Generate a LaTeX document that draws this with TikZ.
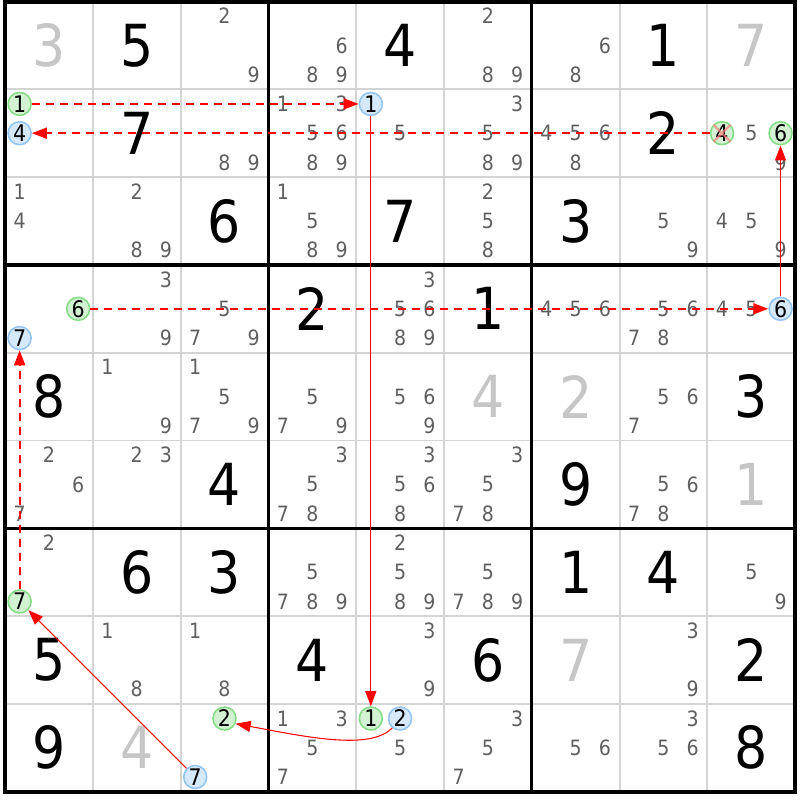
\documentclass[tikz,border=0pt]{standalone}
\usepackage{fontspec}
\setmainfont{DejaVu Sans Condensed}
\usepackage{tikz}
\usepackage{xcolor}
\usetikzlibrary{arrows.meta,shapes.misc}
\definecolor{candgray}{HTML}{5F5F5F}
\definecolor{gridgray}{HTML}{D4D4D4}
\definecolor{ongreen}{HTML}{D3F2D3}
\definecolor{onedge}{HTML}{86DC86}
\definecolor{offblue}{HTML}{D6E9FC}
\definecolor{offedge}{HTML}{94C4F2}

\begin{document}
\begin{tikzpicture}[x=1.756cm, y=-1.756cm,
    given/.style={inner sep=0pt, font=\fontsize{33}{33}\selectfont},
    solved/.style={given, text=gray!45},
    cand/.style={inner sep=0pt, text=candgray, font=\fontsize{12}{12}\selectfont},
    oncand/.style={circle, draw=onedge, fill=ongreen, line width=0.9pt, minimum size=0.46cm, inner sep=0pt, font=\fontsize{13}{13}\selectfont},
    offcand/.style={oncand, draw=offedge, fill=offblue},
    strongline/.style={draw=red, line width=0.6pt, -{Triangle[length=0.3cm, width=0.22cm]}},
    weakline/.style={strongline, line width=1pt, dash pattern=on 0.16cm off 0.12cm}
]
    \useasboundingbox (-0.057,-0.017) rectangle (9.055,9.094);

    \foreach \i in {1,2,4,5,7,8} {
        \draw[gridgray, line width=1.1pt] (\i,0) -- (\i,9);
        \draw[gridgray, line width=1.1pt] (0,\i) -- (9,\i);
    }
    \foreach \i in {3,6} {
        \draw[line width=1.9pt] (\i,0) -- (\i,9);
        \draw[line width=1.9pt] (0,\i) -- (9,\i);
    }
    \draw[line width=2.3pt] (0,0) rectangle (9,9);

    \foreach \r/\c/\d in {1/2/5, 1/5/4, 1/8/1, 2/2/7, 2/8/2, 3/3/6, 3/5/7, 3/7/3,
        4/4/2, 4/6/1, 5/1/8, 5/9/3, 6/3/4, 6/7/9, 7/2/6, 7/3/3, 7/7/1, 7/8/4,
        8/1/5, 8/4/4, 8/6/6, 8/9/2, 9/1/9, 9/9/8}
        \node[given] (g\r\c) at (\c-0.5,\r-0.5) {\d};
    \foreach \r/\c/\d in {1/1/3, 1/9/7, 5/6/4, 5/7/2, 6/9/1, 8/7/7, 9/2/4}
        \node[solved] (g\r\c) at (\c-0.5,\r-0.5) {\d};

    \foreach \r/\c/\ds in {1/3/{2,9}, 1/4/{6,8,9}, 1/6/{2,8,9}, 1/7/{6,8},
        2/3/{8,9}, 2/4/{1,3,5,6,8,9}, 2/5/{5}, 2/6/{3,5,8,9}, 2/7/{4,5,6,8}, 2/9/{5,9},
        3/1/{1,4}, 3/2/{2,8,9}, 3/4/{1,5,8,9}, 3/6/{2,5,8}, 3/8/{5,9}, 3/9/{4,5,9},
        4/2/{3,9}, 4/3/{5,7,9}, 4/5/{3,5,6,8,9}, 4/7/{4,5,6}, 4/8/{5,6,7,8}, 4/9/{4,5},
        5/2/{1,9}, 5/3/{1,5,7,9}, 5/4/{5,7,9}, 5/5/{5,6,9}, 5/8/{5,6,7},
        6/1/{2,6,7}, 6/2/{2,3}, 6/4/{3,5,7,8}, 6/5/{3,5,6,8}, 6/6/{3,5,7,8}, 6/8/{5,6,7,8},
        7/1/{2}, 7/4/{5,7,8,9}, 7/5/{2,5,8,9}, 7/6/{5,7,8,9}, 7/9/{5,9},
        8/2/{1,8}, 8/3/{1,8}, 8/5/{3,9}, 8/8/{3,9},
        9/4/{1,3,5,7}, 9/5/{5}, 9/6/{3,5,7}, 9/7/{5,6}, 9/8/{3,5,6}}
        \foreach \d in \ds {
            \pgfmathsetmacro\kx{\c-1+(mod(\d-1,3)+0.5)/3}
            \pgfmathsetmacro\ky{\r-1+(int((\d-1)/3)+0.5)/3}
            \node[cand] (k\r\c\d) at (\kx,\ky) {\d};
        }

    \node[oncand] (c211) at (0.1667,1.1667) {1};
    \node[offcand] (c214) at (0.1667,1.5) {4};
    \node[offcand] (c251) at (4.1667,1.1667) {1};
    \node[oncand] (c294) at (8.1667,1.5) {4};
    \node[oncand] (c296) at (8.8333,1.5) {6};
    \node[oncand] (c416) at (0.8333,3.5) {6};
    \node[offcand] (c417) at (0.1667,3.8333) {7};
    \node[offcand] (c496) at (8.8333,3.5) {6};
    \node[oncand] (c717) at (0.1667,6.8333) {7};
    \node[oncand] (c932) at (2.5,8.1667) {2};
    \node[offcand] (c937) at (2.1667,8.8333) {7};
    \node[oncand] (c951) at (4.1667,8.1667) {1};
    \node[offcand] (c952) at (4.5,8.1667) {2};
    \node[cross out, draw=red!50, opacity=0.7, line width=1.3pt, minimum size=0.3cm, inner sep=0pt] (x294) at (c294) {};

    \draw[weakline] (c211) -- (c251);
    \draw[strongline] (c251) -- (c951);
    \draw[strongline] (c952.230) .. controls +(-0.25,0.26) and +(0.8,0.15) .. (c932.-25);
    \draw[strongline] (c937) -- (c717);
    \draw[weakline] (c717) -- (c417);
    \draw[weakline] (c416) -- (c496);
    \draw[strongline] (c496) -- (c296);
    \draw[weakline] (c294) -- (c214);
\end{tikzpicture}
\end{document}
